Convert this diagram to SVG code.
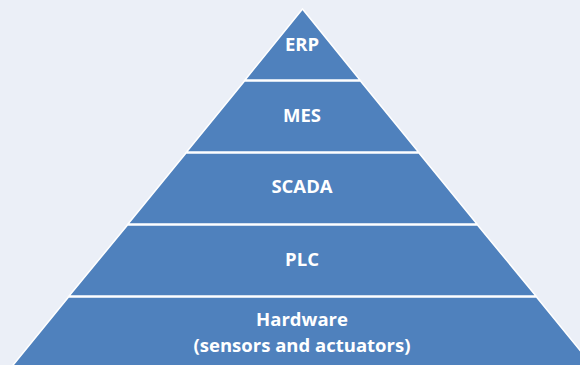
<svg xmlns="http://www.w3.org/2000/svg" width="580" height="365" viewBox="0 0 580 365">
<style>
.layer{fill:#4F81BD;stroke:#FFFFFF;stroke-width:1.5;stroke-linejoin:miter}
.lbl{font-family:"Open Sans","Liberation Sans",sans-serif;font-weight:bold;font-size:18.5px;fill:#FFFFFF;text-anchor:middle}
</style>
<rect width="580" height="365" fill="#EBEFF7"/>
<g id="connectors"></g>
<g id="erp">
<polygon class="layer" points="302.5,9 245,80 360,80"/>
<text class="lbl" x="302" y="51">ERP</text>
</g>
<g id="mes">
<polygon class="layer" points="244.5,81 360.5,81 418.5,152 186.5,152"/>
<text class="lbl" x="302" y="122">MES</text>
</g>
<g id="scada">
<polygon class="layer" points="186,153 419,153 477,224 128,224"/>
<text class="lbl" x="302" y="193">SCADA</text>
</g>
<g id="plc">
<polygon class="layer" points="127.5,225 477.5,225 536,296 69,296"/>
<text class="lbl" x="302" y="266">PLC</text>
</g>
<g id="hardware">
<polygon class="layer" points="68.5,297 536.5,297 600,375 5,375"/>
<text class="lbl" x="302" y="326">Hardware</text>
<text class="lbl" x="302" y="352">(sensors and actuators)</text>
</g>
</svg>
